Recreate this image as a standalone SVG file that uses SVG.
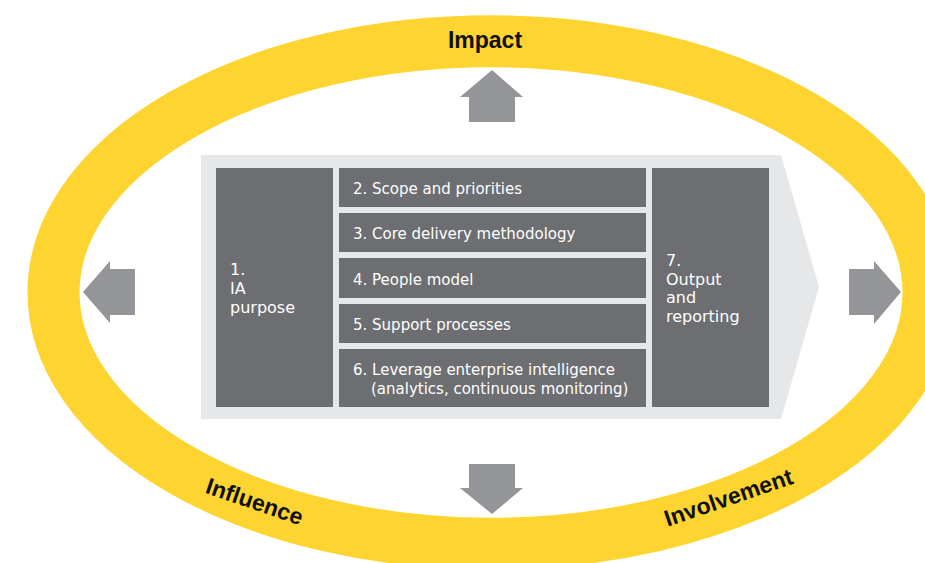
<svg xmlns="http://www.w3.org/2000/svg" width="925" height="563" viewBox="0 0 925 563">
  <style>
    .box { fill: #6d6e71; }
    .arrow { fill: #939598; }
    .t { font-family: "DejaVu Sans", "Liberation Sans", sans-serif; fill: #ffffff; font-size: 15px; }
    .tb { font-family: "DejaVu Sans", "Liberation Sans", sans-serif; fill: #ffffff; font-size: 16px; }
    .ring { font-family: "Liberation Sans", Arial, sans-serif; font-weight: bold; fill: #111111; font-size: 23px; }
  </style>
  <rect x="0" y="0" width="925" height="563" fill="#ffffff"/>
  <g id="ring">
    <ellipse cx="491" cy="292.5" rx="437.5" ry="251.25" fill="none" stroke="#fed530" stroke-width="52"/>
    <text class="ring" x="485" y="48" text-anchor="middle">Impact</text>
    <text class="ring" x="0" y="0" text-anchor="middle" transform="translate(252,509) rotate(19)">Influence</text>
    <text class="ring" x="0" y="0" text-anchor="middle" transform="translate(731,505) rotate(-19)">Involvement</text>
  </g>
  <g id="panel">
    <polygon points="201,155 781,155 819,287 781,419 201,419" fill="#e6e7e8"/>
  </g>
  <g id="node1">
    <rect class="box" x="216" y="168" width="117" height="239"/>
    <text class="tb" x="230" y="275">1.</text>
    <text class="tb" x="230" y="294">IA</text>
    <text class="tb" x="230" y="313">purpose</text>
  </g>
  <g id="node2">
    <rect class="box" x="339" y="168" width="307" height="39"/>
    <text class="t" x="353" y="194">2. Scope and priorities</text>
  </g>
  <g id="node3">
    <rect class="box" x="339" y="213" width="307" height="39"/>
    <text class="t" x="353" y="239">3. Core delivery methodology</text>
  </g>
  <g id="node4">
    <rect class="box" x="339" y="258" width="307" height="40"/>
    <text class="t" x="353" y="285">4. People model</text>
  </g>
  <g id="node5">
    <rect class="box" x="339" y="304" width="307" height="39"/>
    <text class="t" x="353" y="330">5. Support processes</text>
  </g>
  <g id="node6">
    <rect class="box" x="339" y="349" width="307" height="58"/>
    <text class="t" x="353" y="375">6. Leverage enterprise intelligence</text>
    <text class="t" x="371" y="394">(analytics, continuous monitoring)</text>
  </g>
  <g id="node7">
    <rect class="box" x="652" y="168" width="117" height="239"/>
    <text class="tb" x="666" y="266">7.</text>
    <text class="tb" x="666" y="284.5">Output</text>
    <text class="tb" x="666" y="303">and</text>
    <text class="tb" x="666" y="321.5">reporting</text>
  </g>
  <g id="connectors">
    <polygon class="arrow" points="492,70 523,97 515,97 515,122 469,122 469,97 460,97"/>
    <polygon class="arrow" points="492,514 523,488 515,488 515,464 469,464 469,488 460,488"/>
    <polygon class="arrow" points="83,292 110,261 110,269 135,269 135,315 110,315 110,323"/>
    <polygon class="arrow" points="901,292 874,261 874,269 849,269 849,315 874,315 874,324"/>
  </g>
</svg>
